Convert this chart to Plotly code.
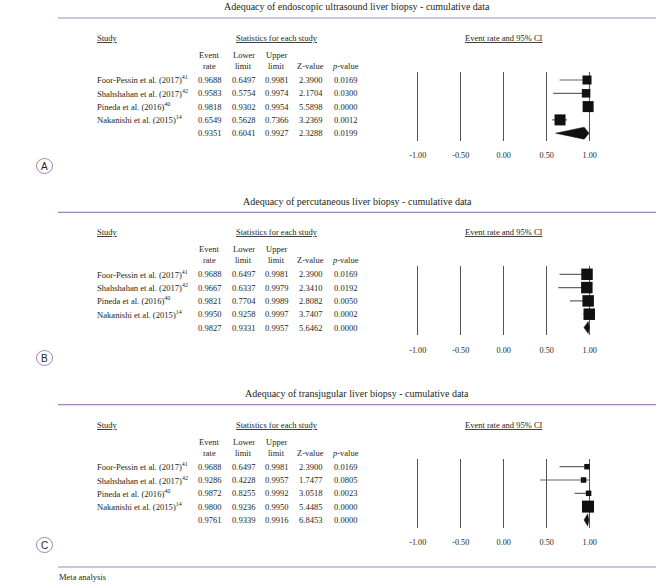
import plotly.graph_objects as go

W, H = 657, 586

# ---------------- data ----------------
studies = ["Foor-Pessin et al. (2017)", "Shahshahan et al. (2017)",
           "Pineda et al. (2016)", "Nakanishi et al. (2015)"]
refs = ["41", "42", "40", "14"]
panel_titles = ["Adequacy of endoscopic ultrasound liver biopsy - cumulative data",
                "Adequacy of percutaneous liver biopsy - cumulative data",
                "Adequacy of transjugular liver biopsy - cumulative data"]
panel_letters = ["A", "B", "C"]
x_ticks = [-1.0, -0.5, 0.0, 0.5, 1.0]
x_tick_labels = ["-1.00", "-0.50", "0.00", "0.50", "1.00"]

event_a = [0.9688, 0.9583, 0.9818, 0.6549, 0.9351]
lower_a = [0.6497, 0.5754, 0.9302, 0.5628, 0.6041]
upper_a = [0.9981, 0.9974, 0.9954, 0.7366, 0.9927]
z_a = [2.3900, 2.1704, 5.5898, 3.2369, 2.3288]
p_a = [0.0169, 0.0300, 0.0000, 0.0012, 0.0199]

event_b = [0.9688, 0.9667, 0.9821, 0.9950, 0.9827]
lower_b = [0.6497, 0.6337, 0.7704, 0.9258, 0.9331]
upper_b = [0.9981, 0.9979, 0.9989, 0.9997, 0.9957]
z_b = [2.3900, 2.3410, 2.8082, 3.7407, 5.6462]
p_b = [0.0169, 0.0192, 0.0050, 0.0002, 0.0000]

event_c = [0.9688, 0.9286, 0.9872, 0.9800, 0.9761]
lower_c = [0.6497, 0.4228, 0.8255, 0.9236, 0.9339]
upper_c = [0.9981, 0.9957, 0.9992, 0.9950, 0.9916]
z_c = [2.3900, 1.7477, 3.0518, 5.4485, 6.8453]
p_c = [0.0169, 0.0805, 0.0023, 0.0000, 0.0000]

# ---------------- style ----------------
marker_sizes = [[9, 8.5, 11, 11], [11.5, 11.5, 11.5, 11.5], [5.5, 5.5, 5.5, 12]]
panels = [
    (event_a, lower_a, upper_a, z_a, p_a),
    (event_b, lower_b, upper_b, z_b, p_b),
    (event_c, lower_c, upper_c, z_c, p_c),
]
TXT = "#231f20"
PURPLE = "#a783bb"
GRID = "#555555"
CI = "#666666"
MARK = "#111111"
SERIF = "Liberation Serif"
FS = 8.5
FS_NAME = 8.6
FS_TITLE = 10
FS_TICK = 8.2

row1_px = [80, 274.3, 466.7]
row_step = 13.3
letter_y = [166, 358, 545]
x_left_px, x_right_px = 409.1, 598.3
y_range = [4.6, -0.6]
diamond_h = 0.45


def px(x):
    return x / W


def py(y):
    return 1 - y / H


fig = go.Figure()
annotations = []
shapes = []


def ann(text, x, y, size=FS, xanchor="center", yref="paper", ypix=True, font=SERIF):
    annotations.append(dict(
        text=text, x=px(x), y=(py(y) if ypix else y), xref="paper", yref=yref,
        xanchor=xanchor, yanchor="middle", showarrow=False,
        font=dict(family=font, size=size, color=TXT), borderpad=0))


layout_axes = {}
for k, (ev, lo, up, zv, pv) in enumerate(panels):
    sfx = "" if k == 0 else str(k + 1)
    xa, ya = "x" + sfx, "y" + sfx
    r1 = row1_px[k]
    top = r1 + y_range[1] * row_step
    bot = r1 + y_range[0] * row_step
    layout_axes["xaxis" + sfx] = dict(
        domain=[px(x_left_px), px(x_right_px)], range=[-1.1, 1.1], anchor=ya,
        tickvals=x_ticks, ticktext=x_tick_labels, showgrid=True, gridcolor=GRID,
        gridwidth=1.3, zeroline=False, showline=False, ticks="",
        ticklabelstandoff=8, tickfont=dict(family=SERIF, size=FS_TICK, color=TXT),
        fixedrange=True)
    layout_axes["yaxis" + sfx] = dict(
        domain=[py(bot), py(top)], range=y_range, anchor=xa, visible=False,
        showgrid=False, zeroline=False, fixedrange=True)

    n = len(studies)
    rows = list(range(n))
    # CI lines
    xs, ys = [], []
    for i in rows:
        xs += [lo[i], up[i], None]
        ys += [i, i, None]
    fig.add_trace(go.Scatter(x=xs, y=ys, xaxis=xa, yaxis=ya, mode="lines",
                             line=dict(color=CI, width=1.2), hoverinfo="skip",
                             showlegend=False, cliponaxis=False))
    # squares
    fig.add_trace(go.Scatter(x=ev[:n], y=rows, xaxis=xa, yaxis=ya, mode="markers",
                             marker=dict(symbol="square", size=marker_sizes[k],
                                         color=MARK, opacity=1, line=dict(width=0)),
                             showlegend=False, cliponaxis=False))
    # summary diamond
    s = n
    fig.add_trace(go.Scatter(
        x=[lo[s], ev[s], up[s], ev[s], lo[s]],
        y=[s, s - diamond_h, s, s + diamond_h, s],
        xaxis=xa, yaxis=ya, mode="lines", fill="toself", fillcolor=MARK,
        line=dict(color=MARK, width=0.5), showlegend=False, cliponaxis=False))

    # headers
    ann(panel_titles[k], 357, r1 - 73, size=FS_TITLE)
    shapes.append(dict(type="line", xref="paper", yref="paper", x0=px(58), x1=px(656),
                       y0=py(r1 - 62), y1=py(r1 - 62), line=dict(color=PURPLE, width=1.2)))
    ann("<u>Study</u>", 96, r1 - 42, xanchor="left")
    ann("<u>Statistics for each study</u>", 277, r1 - 42)
    ann("<u>Event rate and 95% CI</u>", 503.5, r1 - 42)
    ann("Event", 209, r1 - 25)
    ann("rate", 209, r1 - 14)
    ann("Lower", 243.5, r1 - 25)
    ann("limit", 243.5, r1 - 14)
    ann("Upper", 276.5, r1 - 25)
    ann("limit", 276.5, r1 - 14)
    ann("Z-value", 310.5, r1 - 14)
    ann("<i>p</i>-value", 345, r1 - 14)

    cols = [(209, ev), (243.5, lo), (276.5, up), (310.5, zv), (345, pv)]
    for i in range(n + 1):
        if i < n:
            ann(f"{studies[i]}<sup>{refs[i]}</sup>", 96, i, size=FS_NAME,
                xanchor="left", yref=ya, ypix=False)
        for cx, arr in cols:
            ann(f"{arr[i]:.4f}", cx, i, yref=ya, ypix=False)

    # panel letter in circle
    ly = letter_y[k]
    shapes.append(dict(type="circle", xref="paper", yref="paper",
                       x0=px(44.5 - 8), x1=px(44.5 + 8), y0=py(ly + 7.5), y1=py(ly - 7.5),
                       line=dict(color=PURPLE, width=1)))
    ann(panel_letters[k], 44.5, ly, size=10, font="Liberation Sans")

shapes.append(dict(type="line", xref="paper", yref="paper", x0=px(58), x1=px(656),
                   y0=py(567), y1=py(567), line=dict(color=PURPLE, width=1.2)))
ann("Meta analysis", 58, 577, xanchor="left")

fig.update_layout(
    width=W, height=H, margin=dict(l=0, r=0, t=0, b=0),
    paper_bgcolor="white", plot_bgcolor="rgba(0,0,0,0)",
    annotations=annotations, shapes=shapes, showlegend=False,
    **layout_axes)

fig.write_html("out.html", config={"displayModeBar": False},
               post_script="document.body.style.margin='0';document.body.style.overflow='hidden';")
